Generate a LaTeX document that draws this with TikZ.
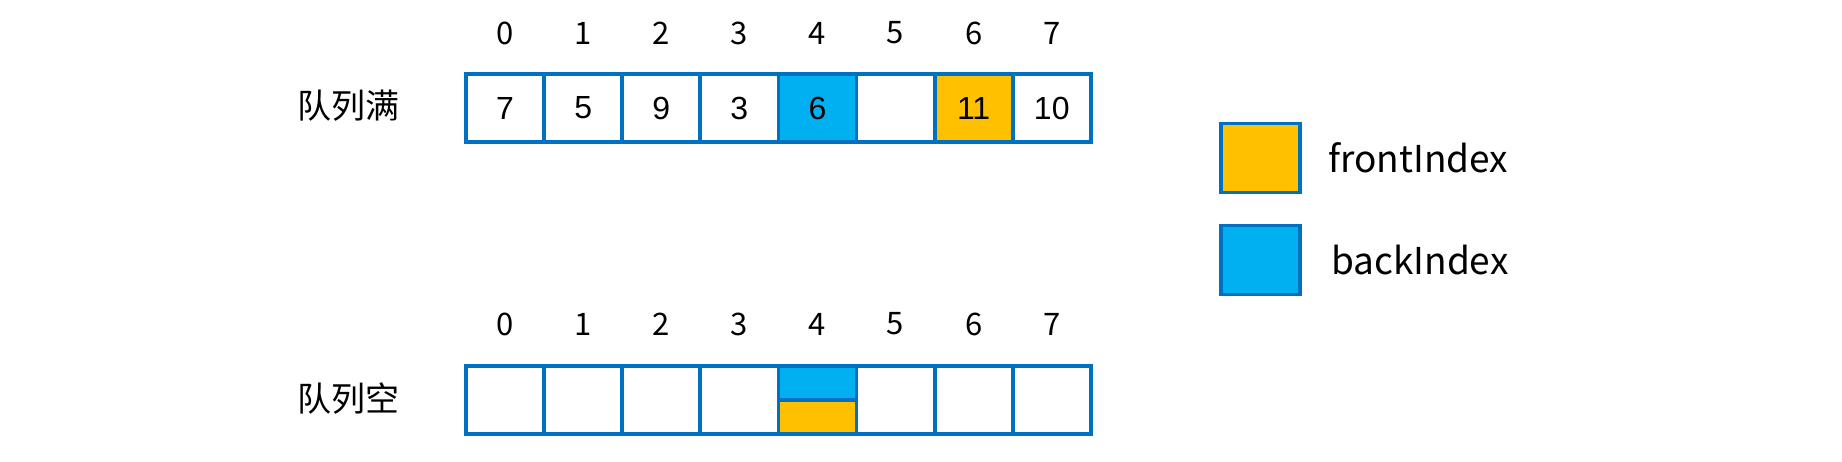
\documentclass[tikz,border=0pt]{standalone}
\usepackage{fontspec}
\setmainfont{Noto Sans CJK SC}
\newfontfamily\arialfont{Liberation Sans}
\definecolor{bordblue}{HTML}{0070C0}
\definecolor{cyanfill}{HTML}{00B0F0}
\definecolor{orangefill}{HTML}{FFC000}
\tikzset{
  cell/.style={draw=bordblue, line width=3.8pt, minimum width=78.1pt, minimum height=68pt, inner sep=0pt, outer sep=0pt, fill=white, font=\arialfont\fontsize{32}{36}\selectfont},
  halfcell/.style={draw=bordblue, line width=3.8pt, minimum width=78.1pt, minimum height=34pt, inner sep=0pt, outer sep=0pt},
  idx/.style={font=\fontsize{31}{36}\selectfont, inner sep=0pt},
  lbl/.style={font=\fontsize{34}{40}\selectfont, inner sep=0pt},
  legbox/.style={draw=bordblue, line width=3.8pt, minimum width=79pt, minimum height=69pt, inner sep=0pt},
  legtext/.style={font=\fontsize{37}{44}\selectfont, inner sep=0pt, anchor=west}
}
\begin{document}
\begin{tikzpicture}[x=1pt,y=-1pt]
\useasboundingbox (0,0) rectangle (1842,461);
% top array
\foreach \i in {0,...,7} {
  \pgfmathsetmacro{\cx}{466+78.1*\i+39.05}
  \node[idx] (ti\i) at (\cx,33) {\i};
}
\node[cell] (t0) at (505.05,108) {7};
\node[cell] (t1) at (583.15,108) {5};
\node[cell] (t2) at (661.25,108) {9};
\node[cell] (t3) at (739.35,108) {3};
\node[cell, fill=cyanfill] (t4) at (817.45,108) {6};
\node[cell] (t5) at (895.55,108) {};
\node[cell, fill=orangefill] (t6) at (973.65,108) {11};
\node[cell] (t7) at (1051.75,108) {10};
\node[lbl] (lfull) at (348,106) {队列满};
% bottom array
\foreach \i in {0,...,7} {
  \pgfmathsetmacro{\cx}{466+78.1*\i+39.05}
  \node[idx] (bi\i) at (\cx,324) {\i};
}
\node[cell] (b0) at (505.05,400) {};
\node[cell] (b1) at (583.15,400) {};
\node[cell] (b2) at (661.25,400) {};
\node[cell] (b3) at (739.35,400) {};
\node[halfcell, fill=cyanfill] (b4a) at (817.45,383) {};
\node[halfcell, fill=orangefill] (b4b) at (817.45,417) {};
\node[cell] (b5) at (895.55,400) {};
\node[cell] (b6) at (973.65,400) {};
\node[cell] (b7) at (1051.75,400) {};
\node[lbl] (lempty) at (348,399) {队列空};
% legend
\node[legbox, fill=orangefill] (lgf) at (1260.5,158) {};
\node[legbox, fill=cyanfill] (lgb) at (1260.5,260) {};
\node[legtext] (tf) at (1328,158) {frontIndex};
\node[legtext] (tb) at (1331,260) {backIndex};
\end{tikzpicture}
\end{document}
